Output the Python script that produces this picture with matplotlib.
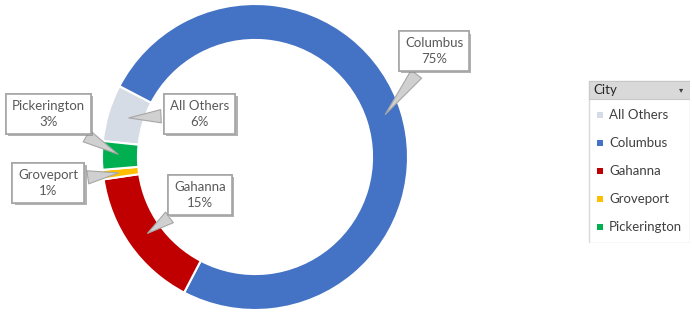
import numpy as np
import matplotlib
matplotlib.use("Agg")
import matplotlib.pyplot as plt
import matplotlib.patheffects as pe
from matplotlib.patches import Rectangle

# dados do grafico
cidades = ["All Others", "Columbus", "Gahanna", "Groveport", "Pickerington"]
valores = [6, 75, 15, 1, 3]
cores = ["#D6DCE5", "#4472C4", "#C00000", "#FFC000", "#00B050"]
titulo_legenda = "City"

# posicao das caixas de rotulo (coordenadas do eixo da pizza)
pos_rotulos = {
    "All Others": (-0.36, 0.28),
    "Columbus": (1.17, 0.69),
    "Gahanna": (-0.36, -0.25),
    "Groveport": (-1.35, -0.17),
    "Pickerington": (-1.35, 0.28),
}

plt.rcParams['font.family'] = ['Lato', 'DejaVu Sans']

W, H = 692, 315
fig = plt.figure(figsize=(W / 100, H / 100), dpi=100)

# --- rosca ---
cx, cy, r = 255, 157, 153
ax = fig.add_axes([(cx - 155) / W, (H - cy - 155) / H, 310 / W, 310 / H])
wedges, _ = ax.pie(valores, colors=cores, startangle=174, counterclock=False,
                   radius=1, wedgeprops=dict(width=0.235, edgecolor="white", linewidth=1.5))
lim = 155 / r
ax.set_xlim(-lim, lim)
ax.set_ylim(-lim, lim)
ax.set_aspect("equal")
ax.axis("off")

total = sum(valores)
for w, nome, v in zip(wedges, cidades, valores):
    ang = np.deg2rad((w.theta1 + w.theta2) / 2)
    alvo = (0.88 * np.cos(ang), 0.88 * np.sin(ang))
    t = ax.annotate(f"{nome}\n{round(100 * v / total)}%", xy=alvo, xytext=pos_rotulos[nome],
                    ha="center", va="center", fontsize=9.5, color="#595959", linespacing=1.4,
                    bbox=dict(boxstyle="square,pad=0.45", fc="white", ec="#A6A6A6", lw=1.2),
                    arrowprops=dict(arrowstyle="wedge,tail_width=1.0,shrink_factor=0.5",
                                    fc="#D0D0D0", ec="#A6A6A6", lw=0.8),
                    zorder=5)
    t.get_bbox_patch().set_path_effects([pe.withSimplePatchShadow(offset=(1.5, -1.5), shadow_rgbFace="#7F7F7F", alpha=0.6), pe.Normal()])

# --- legenda estilo tabela dinamica ---
lx0, ly0, lw_, lh = 588, 80, 102, 163
lax = fig.add_axes([lx0 / W, (H - ly0 - lh) / H, lw_ / W, lh / H])
lax.set_xlim(0, lw_)
lax.set_ylim(lh, 0)
lax.axis("off")
lax.add_patch(Rectangle((0.5, 0.5), lw_ - 1, lh - 1, fc="white", ec="#D9D9D9", lw=1))
lax.add_patch(Rectangle((0.5, 0.5), lw_ - 1, 18, fc="#D9D9D9", ec="#C8C8C8", lw=0.8))
lax.text(5, 9.5, titulo_legenda, ha="left", va="center", fontsize=9.5, color="#262626")
lax.text(93, 9.5, "▾", ha="center", va="center", fontsize=6, color="#404040",
         family=["DejaVu Sans"])
for i, (nome, c) in enumerate(zip(cidades, cores)):
    yy = 35 + i * 28
    lax.add_patch(Rectangle((9, yy - 3), 6, 6, fc=c, ec="none"))
    lax.text(21, yy, nome, ha="left", va="center", fontsize=9.5, color="#404040")

fig.savefig("out.png", dpi=100)
